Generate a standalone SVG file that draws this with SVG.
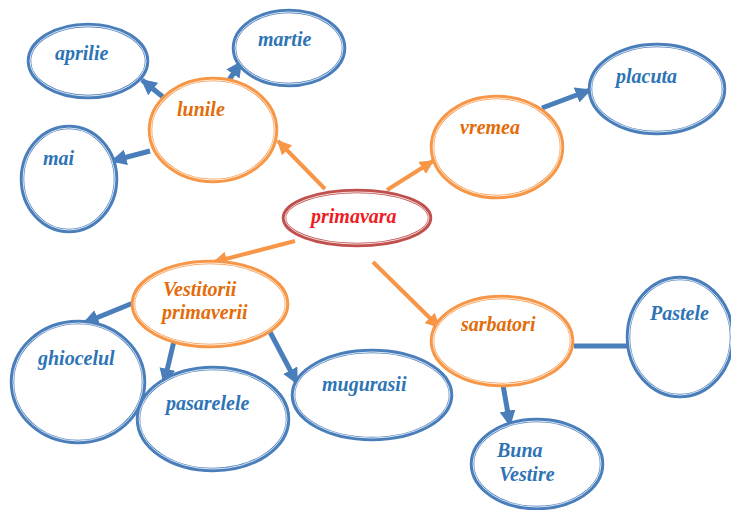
<svg xmlns="http://www.w3.org/2000/svg" width="731" height="510" viewBox="0 0 731 510">
<defs>
<marker id="ab" viewBox="0 0 10 10" refX="9" refY="5" markerWidth="3.2" markerHeight="3.2" orient="auto" markerUnits="strokeWidth"><path d="M0,0 L10,5 L0,10 z" fill="#4a7ebb"/></marker>
<marker id="ao" viewBox="0 0 10 10" refX="9" refY="5" markerWidth="3.6" markerHeight="3.6" orient="auto" markerUnits="strokeWidth"><path d="M0,0 L10,5 L0,10 z" fill="#f79646"/></marker>
</defs>
<style>
.b{fill:#fff;stroke:#4a7ebb;stroke-width:4.5}
.o{fill:#fff;stroke:#f79646;stroke-width:4.5}
.r{fill:#fff;stroke:#c0504d;stroke-width:4.5}
.w{fill:none;stroke:#fff;stroke-width:0.8}
text{font-family:"Liberation Serif","Times New Roman",serif;font-style:italic;font-weight:bold;font-size:20px}
.tb{fill:#2e74b5}
.to{fill:#e36c0a}
.tr{fill:#ee1c25}
.cb{stroke:#4a7ebb;stroke-width:5;fill:none}
.co{stroke:#f79646;stroke-width:4;fill:none}
</style>
<g id="connectors">
<line class="co" x1="325" y1="189" x2="278" y2="141" marker-end="url(#ao)"/>
<line class="cb" x1="163" y1="97" x2="142" y2="80" marker-end="url(#ab)"/>
<line class="cb" x1="229" y1="80" x2="241" y2="62" marker-end="url(#ab)"/>
<line class="cb" x1="150" y1="151" x2="112" y2="161" marker-end="url(#ab)"/>
<line class="co" x1="387" y1="190" x2="433" y2="161" marker-end="url(#ao)"/>
<line class="cb" x1="542" y1="108" x2="590" y2="90" marker-end="url(#ab)"/>
<line class="co" x1="295" y1="241" x2="214" y2="262" marker-end="url(#ao)"/>
<line class="cb" x1="133" y1="303" x2="84" y2="323" marker-end="url(#ab)"/>
<line class="cb" x1="174" y1="341" x2="164" y2="383" marker-end="url(#ab)"/>
<line class="cb" x1="270" y1="332" x2="297" y2="383" marker-end="url(#ab)"/>
<line class="co" x1="373" y1="262" x2="439" y2="327" marker-end="url(#ao)"/>
<line class="cb" x1="574" y1="346" x2="628" y2="346"/>
<line class="cb" x1="503" y1="385" x2="510" y2="425" marker-end="url(#ab)"/>
</g>
<g id="aprilie"><ellipse class="b" cx="88" cy="61" rx="59" ry="36"/><ellipse class="w" cx="88" cy="61" rx="58" ry="35"/><text class="tb" x="55" y="60">aprilie</text></g>
<g id="martie"><ellipse class="b" cx="289" cy="48" rx="55" ry="37"/><ellipse class="w" cx="289" cy="48" rx="54" ry="36"/><text class="tb" x="258" y="46">martie</text></g>
<g id="lunile"><ellipse class="o" cx="213" cy="130" rx="63" ry="51"/><ellipse class="w" cx="213" cy="130" rx="62" ry="50"/><text class="to" x="177" y="116">lunile</text></g>
<g id="mai"><ellipse class="b" cx="69" cy="179" rx="47" ry="52"/><ellipse class="w" cx="69" cy="179" rx="46" ry="51"/><text class="tb" x="43" y="165">mai</text></g>
<g id="primavara"><ellipse class="r" cx="357" cy="218" rx="73" ry="27"/><ellipse class="w" cx="357" cy="218" rx="72" ry="26"/><text class="tr" x="311" y="223">primavara</text></g>
<g id="vremea"><ellipse class="o" cx="497" cy="147" rx="65" ry="50"/><ellipse class="w" cx="497" cy="147" rx="64" ry="49"/><text class="to" x="460" y="134">vremea</text></g>
<g id="placuta"><ellipse class="b" cx="657" cy="89" rx="67" ry="44"/><ellipse class="w" cx="657" cy="89" rx="66" ry="43"/><text class="tb" x="616" y="83">placuta</text></g>
<g id="vestitorii"><ellipse class="o" cx="210" cy="304" rx="77" ry="42"/><ellipse class="w" cx="210" cy="304" rx="76" ry="41"/><text class="to" x="163" y="296">Vestitorii</text><text class="to" x="162" y="319">primaverii</text></g>
<g id="ghiocelul"><ellipse class="b" cx="78" cy="382" rx="66" ry="60"/><ellipse class="w" cx="78" cy="382" rx="65" ry="59"/><text class="tb" x="38" y="365">ghiocelul</text></g>
<g id="pasarelele"><ellipse class="b" cx="213" cy="419" rx="75" ry="51"/><ellipse class="w" cx="213" cy="419" rx="74" ry="50"/><text class="tb" x="166" y="410">pasarelele</text></g>
<g id="mugurasii"><ellipse class="b" cx="372" cy="395" rx="79" ry="44"/><ellipse class="w" cx="372" cy="395" rx="78" ry="43"/><text class="tb" x="322" y="391">mugurasii</text></g>
<g id="sarbatori"><ellipse class="o" cx="502" cy="341" rx="70" ry="44"/><ellipse class="w" cx="502" cy="341" rx="69" ry="43"/><text class="to" x="461" y="331">sarbatori</text></g>
<g id="pastele"><ellipse class="b" cx="680" cy="337" rx="52" ry="59"/><ellipse class="w" cx="680" cy="337" rx="51" ry="58"/><text class="tb" x="650" y="320">Pastele</text></g>
<g id="buna-vestire"><ellipse class="b" cx="537" cy="464" rx="65" ry="44"/><ellipse class="w" cx="537" cy="464" rx="64" ry="43"/><text class="tb" x="497" y="457">Buna</text><text class="tb" x="499" y="481">Vestire</text></g>
</svg>
